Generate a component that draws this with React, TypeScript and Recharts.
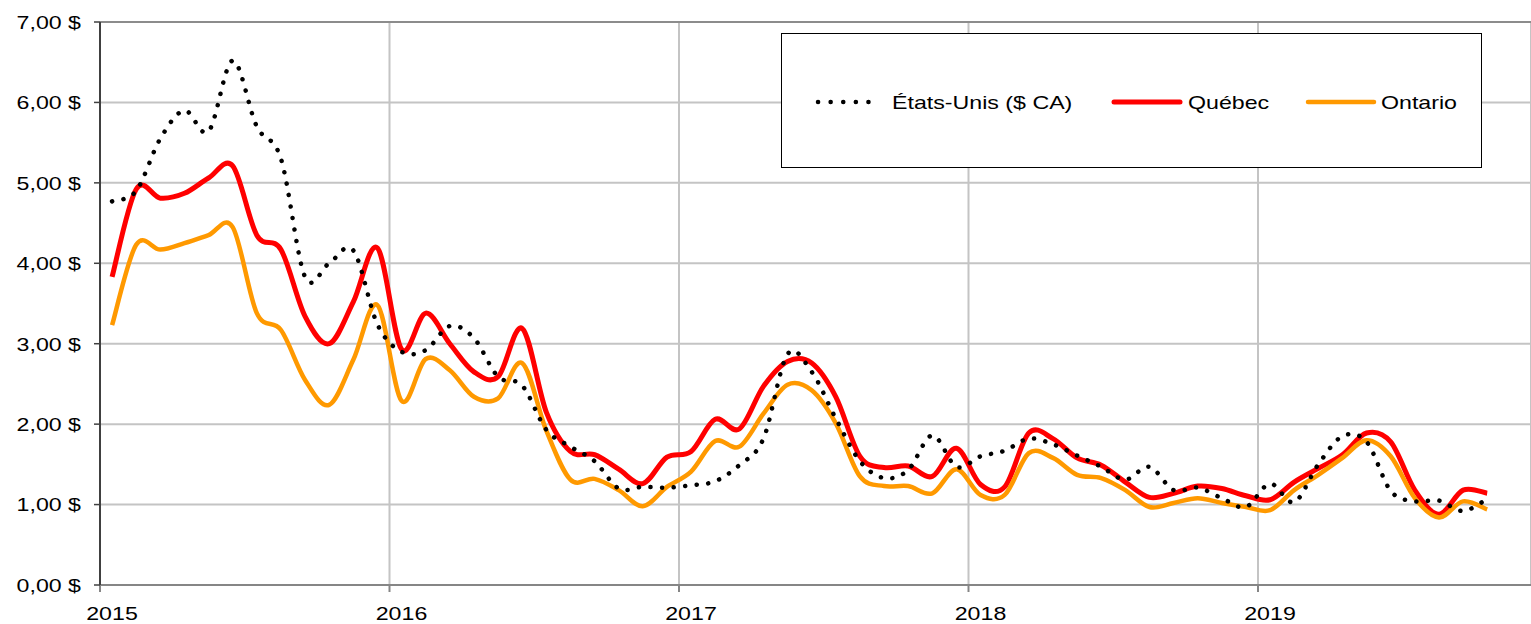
import React from 'react';
import { LineChart, Line, XAxis, YAxis, CartesianGrid, Legend, ReferenceLine } from 'recharts';

// Monthly categories (mid-month points)
const months: string[] = [
  '2015-01', '2015-02', '2015-03', '2015-04', '2015-05', '2015-06', '2015-07', '2015-08', '2015-09', '2015-10', '2015-11', '2015-12',
  '2016-01', '2016-02', '2016-03', '2016-04', '2016-05', '2016-06', '2016-07', '2016-08', '2016-09', '2016-10', '2016-11', '2016-12',
  '2017-01', '2017-02', '2017-03', '2017-04', '2017-05', '2017-06', '2017-07', '2017-08', '2017-09', '2017-10', '2017-11', '2017-12',
  '2018-01', '2018-02', '2018-03', '2018-04', '2018-05', '2018-06', '2018-07', '2018-08', '2018-09', '2018-10', '2018-11', '2018-12',
  '2019-01', '2019-02', '2019-03', '2019-04', '2019-05', '2019-06', '2019-07', '2019-08', '2019-09', '2019-10',
];

const usa: number[] = [
  4.77, 4.90, 5.55, 5.90, 5.64, 6.52, 5.70, 5.30, 3.83, 4.00, 4.16, 3.24,
  2.90, 2.92, 3.22, 3.07, 2.59, 2.48, 1.93, 1.72, 1.54, 1.20, 1.22, 1.21,
  1.24, 1.29, 1.49, 1.82, 2.87, 2.65, 2.07, 1.54, 1.33, 1.43, 1.86, 1.47,
  1.60, 1.67, 1.82, 1.75, 1.61, 1.47, 1.31, 1.47, 1.18, 1.21, 1.08, 0.97,
  1.26, 1.03, 1.50, 1.85, 1.78, 1.17, 1.04, 1.05, 0.92, 1.07,
];

const quebec: number[] = [
  3.83, 4.92, 4.81, 4.87, 5.06, 5.21, 4.35, 4.17, 3.34, 3.00, 3.52, 4.19,
  2.93, 3.38, 3.00, 2.65, 2.59, 3.19, 2.15, 1.66, 1.62, 1.44, 1.26, 1.59,
  1.66, 2.06, 1.94, 2.47, 2.78, 2.76, 2.34, 1.60, 1.46, 1.48, 1.35, 1.70,
  1.25, 1.22, 1.89, 1.82, 1.58, 1.49, 1.28, 1.09, 1.14, 1.23, 1.20, 1.11,
  1.06, 1.28, 1.45, 1.62, 1.89, 1.78, 1.18, 0.88, 1.18, 1.14,
];

const ontario: number[] = [
  3.23, 4.23, 4.17, 4.25, 4.35, 4.45, 3.38, 3.17, 2.55, 2.24, 2.80, 3.48,
  2.29, 2.81, 2.67, 2.34, 2.32, 2.76, 1.92, 1.31, 1.32, 1.18, 0.98, 1.22,
  1.41, 1.79, 1.72, 2.13, 2.49, 2.42, 2.01, 1.35, 1.23, 1.23, 1.14, 1.44,
  1.12, 1.12, 1.64, 1.58, 1.37, 1.33, 1.18, 0.97, 1.02, 1.08, 1.02, 0.97,
  0.93, 1.18, 1.37, 1.58, 1.80, 1.60, 1.08, 0.84, 1.04, 0.94,
];

const xTicks: number[] = [2015, 2016, 2017, 2018, 2019];
const yTicks: number[] = [0, 1, 2, 3, 4, 5, 6, 7];
const seriesNames = { usa: 'États-Unis ($ CA)', quebec: 'Québec', ontario: 'Ontario' };

const data = months.map((m, i) => {
  const [yr, mo] = m.split('-').map(Number);
  return { t: yr + (mo - 0.5) / 12, usa: usa[i], quebec: quebec[i], ontario: ontario[i] };
});

const FONT = '"Liberation Sans", Arial, Helvetica, sans-serif';
const STRETCH = 1.22;

// Excel-like smoothed line (Catmull-Rom as cubic Bezier)
const excelCurve: any = (context: any) => {
  let xs: number[] = [];
  let ys: number[] = [];
  return {
    areaStart() {},
    areaEnd() {},
    lineStart() {
      xs = [];
      ys = [];
    },
    lineEnd() {
      const n = xs.length;
      if (n === 0) return;
      context.moveTo(xs[0], ys[0]);
      if (n === 1) return;
      if (n === 2) {
        context.lineTo(xs[1], ys[1]);
        return;
      }
      const k = 1 / 6;
      for (let i = 0; i < n - 1; i++) {
        const i0 = Math.max(i - 1, 0);
        const i3 = Math.min(i + 2, n - 1);
        const c1x = xs[i] + (xs[i + 1] - xs[i0]) * k;
        const c1y = ys[i] + (ys[i + 1] - ys[i0]) * k;
        const c2x = xs[i + 1] - (xs[i3] - xs[i]) * k;
        const c2y = ys[i + 1] - (ys[i3] - ys[i]) * k;
        context.bezierCurveTo(c1x, c1y, c2x, c2y, xs[i + 1], ys[i + 1]);
      }
    },
    point(x: number, y: number) {
      xs.push(+x);
      ys.push(+y);
    },
  };
};

const fmtMoney = (v: number) => `${v.toFixed(2).replace('.', ',')} $`;

const YTick = (props: any) => {
  const { x, y, payload } = props;
  return (
    <g transform={`translate(${x},${y})`}>
      <text transform={`scale(${STRETCH},1)`} textAnchor="end" dy="0.36em" fontSize={19} fontFamily={FONT} fill="#000">
        {fmtMoney(payload.value)}
      </text>
    </g>
  );
};

const XTick = (props: any) => {
  const { x, y, payload } = props;
  return (
    <g transform={`translate(${x + 12},${y})`}>
      <text transform={`scale(${STRETCH},1)`} textAnchor="middle" dy={26} fontSize={19} fontFamily={FONT} fill="#000">
        {payload.value}
      </text>
    </g>
  );
};

const legendText: React.CSSProperties = {
  position: 'absolute',
  top: 59,
  fontSize: 19,
  lineHeight: '19px',
  fontFamily: FONT,
  color: '#000',
  whiteSpace: 'nowrap',
  transform: `scaleX(${STRETCH})`,
  transformOrigin: 'left center',
};

const LegendBox = () => (
  <div
    style={{
      position: 'relative',
      width: 701,
      height: 135,
      border: '1px solid #000',
      boxSizing: 'border-box',
      background: '#fff',
    }}
  >
    <svg style={{ position: 'absolute', left: 33, top: 58 }} width={72} height={20}>
      <line x1={3} y1={10} x2={66} y2={10} stroke="#000" strokeWidth={4.5} strokeDasharray="0.1 12.5" strokeLinecap="round" />
    </svg>
    <span style={{ ...legendText, left: 110 }}>{seriesNames.usa}</span>
    <svg style={{ position: 'absolute', left: 329, top: 58 }} width={74} height={20}>
      <line x1={3} y1={10} x2={69} y2={10} stroke="#FF0000" strokeWidth={5} strokeLinecap="round" />
    </svg>
    <span style={{ ...legendText, left: 406 }}>{seriesNames.quebec}</span>
    <svg style={{ position: 'absolute', left: 523, top: 58 }} width={74} height={20}>
      <line x1={3} y1={10} x2={69} y2={10} stroke="#FF9900" strokeWidth={4.5} strokeLinecap="round" />
    </svg>
    <span style={{ ...legendText, left: 599 }}>{seriesNames.ontario}</span>
  </div>
);

export default function App() {
  return (
    <div style={{ position: 'absolute', left: 0, top: 0, width: 1531, height: 624, background: '#fff' }}>
      <LineChart width={1531} height={624} data={data} margin={{ top: 22, right: 0, bottom: 0, left: 0 }}>
        <CartesianGrid stroke="#C4C4C4" strokeWidth={2} />
        <ReferenceLine y={7} stroke="#8C8C8C" strokeWidth={2} />
        <XAxis
          dataKey="t"
          type="number"
          domain={[2015, 2019.943]}
          ticks={xTicks}
          interval={0}
          height={39}
          tickSize={7}
          tickMargin={2}
          axisLine={{ stroke: '#868686', strokeWidth: 2 }}
          tickLine={{ stroke: '#868686', strokeWidth: 2 }}
          tick={<XTick />}
          allowDataOverflow
        />
        <YAxis
          type="number"
          domain={[0, 7]}
          ticks={yTicks}
          interval={0}
          width={100}
          tickSize={6}
          tickMargin={13}
          axisLine={{ stroke: '#404040', strokeWidth: 2 }}
          tickLine={{ stroke: '#404040', strokeWidth: 1.5 }}
          tick={<YTick />}
        />
        <Legend
          layout="horizontal"
          verticalAlign="middle"
          align="center"
          wrapperStyle={{ left: 781, top: 33, width: 701, height: 135 }}
          content={() => <LegendBox />}
        />
        <Line
          dataKey="quebec"
          name={seriesNames.quebec}
          type={excelCurve}
          stroke="#FF0000"
          strokeWidth={5}
          strokeLinejoin="round"
          dot={false}
          activeDot={false}
          isAnimationActive={false}
        />
        <Line
          dataKey="ontario"
          name={seriesNames.ontario}
          type={excelCurve}
          stroke="#FF9900"
          strokeWidth={4.5}
          strokeLinejoin="round"
          dot={false}
          activeDot={false}
          isAnimationActive={false}
        />
        <Line
          dataKey="usa"
          name={seriesNames.usa}
          type={excelCurve}
          stroke="#000000"
          strokeWidth={4.5}
          strokeDasharray="0.1 11.5"
          strokeLinecap="round"
          dot={false}
          activeDot={false}
          isAnimationActive={false}
        />
      </LineChart>
    </div>
  );
}
